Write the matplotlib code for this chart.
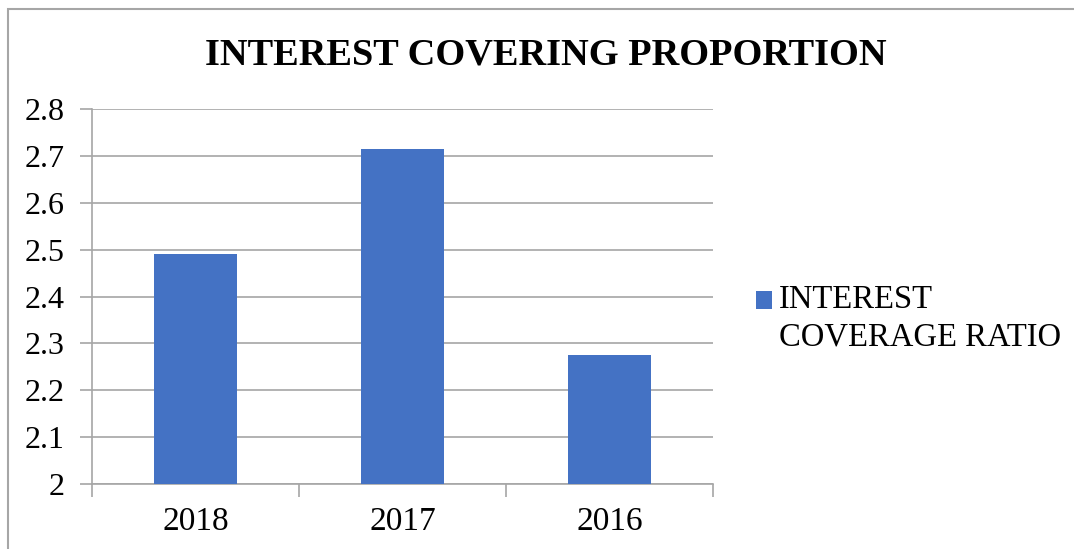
import matplotlib.pyplot as plt
from matplotlib.patches import Rectangle

# interest coverage ratio by year
years = ['2018', '2017', '2016']
coverage = [2.49, 2.715, 2.275]
yticks = [2, 2.1, 2.2, 2.3, 2.4, 2.5, 2.6, 2.7, 2.8]
ytick_labels = ['2', '2.1', '2.2', '2.3', '2.4', '2.5', '2.6', '2.7', '2.8']

plt.rcParams['font.family'] = ['Liberation Serif', 'DejaVu Serif']

grey = '#a6a6a6'
blue = '#4472c4'

fig = plt.figure(figsize=(10.74, 5.49), dpi=100)
ax = fig.add_axes([92 / 1074, 1 - 484 / 549, (713 - 92) / 1074, (484 - 109) / 549])

x = list(range(len(years)))
ax.bar(x, [v - 2 for v in coverage], bottom=2, width=0.4, color=blue, zorder=3)

ax.set_ylim(2, 2.8)
ax.set_xlim(-0.5, len(years) - 0.5)
ax.set_yticks(yticks)
ax.set_yticklabels(ytick_labels, fontsize=23)
ax.yaxis.grid(True, color=grey, linewidth=1.2, zorder=0)

# category boundary ticks below, labels centred under bars
ax.set_xticks([i - 0.5 for i in range(len(years) + 1)])
ax.set_xticklabels([])
ax.set_xticks(x, minor=True)
ax.set_xticklabels(years, minor=True, fontsize=24)
ax.tick_params(axis='x', which='major', length=9, width=1.2, color=grey)
ax.tick_params(axis='x', which='minor', length=0, pad=16)
ax.tick_params(axis='y', length=9, width=1.2, color=grey, pad=11)

for side in ['top', 'right']:
    ax.spines[side].set_visible(False)
for side in ['left', 'bottom']:
    ax.spines[side].set_color(grey)
    ax.spines[side].set_linewidth(1.2)

fig.text(546 / 1074, 1 - 55 / 549, 'INTEREST COVERING PROPORTION', ha='center', va='center',
         fontsize=27.6, fontweight='bold')

leg = ax.legend(['INTEREST\nCOVERAGE RATIO'], loc='upper left', bbox_to_anchor=(756 / 1074, 1 - 284 / 549),
                bbox_transform=fig.transFigure, frameon=False, fontsize=23.5, handlelength=0.49,
                handleheight=0.49, handletextpad=0.2, borderaxespad=0, borderpad=0)
for t in leg.get_texts():
    t.set_linespacing(1.3)
# put the swatch beside the first line of the label
sw = leg.legend_handles[0]
sw.set_y(sw.get_y() + 13)

# outer chart frame
fig.patches.append(Rectangle((8 / 1074, -0.1), 1.2, 1.1 - 9 / 549, transform=fig.transFigure,
                             fill=False, edgecolor=grey, linewidth=1.5))

fig.savefig('out.png', dpi=100)
